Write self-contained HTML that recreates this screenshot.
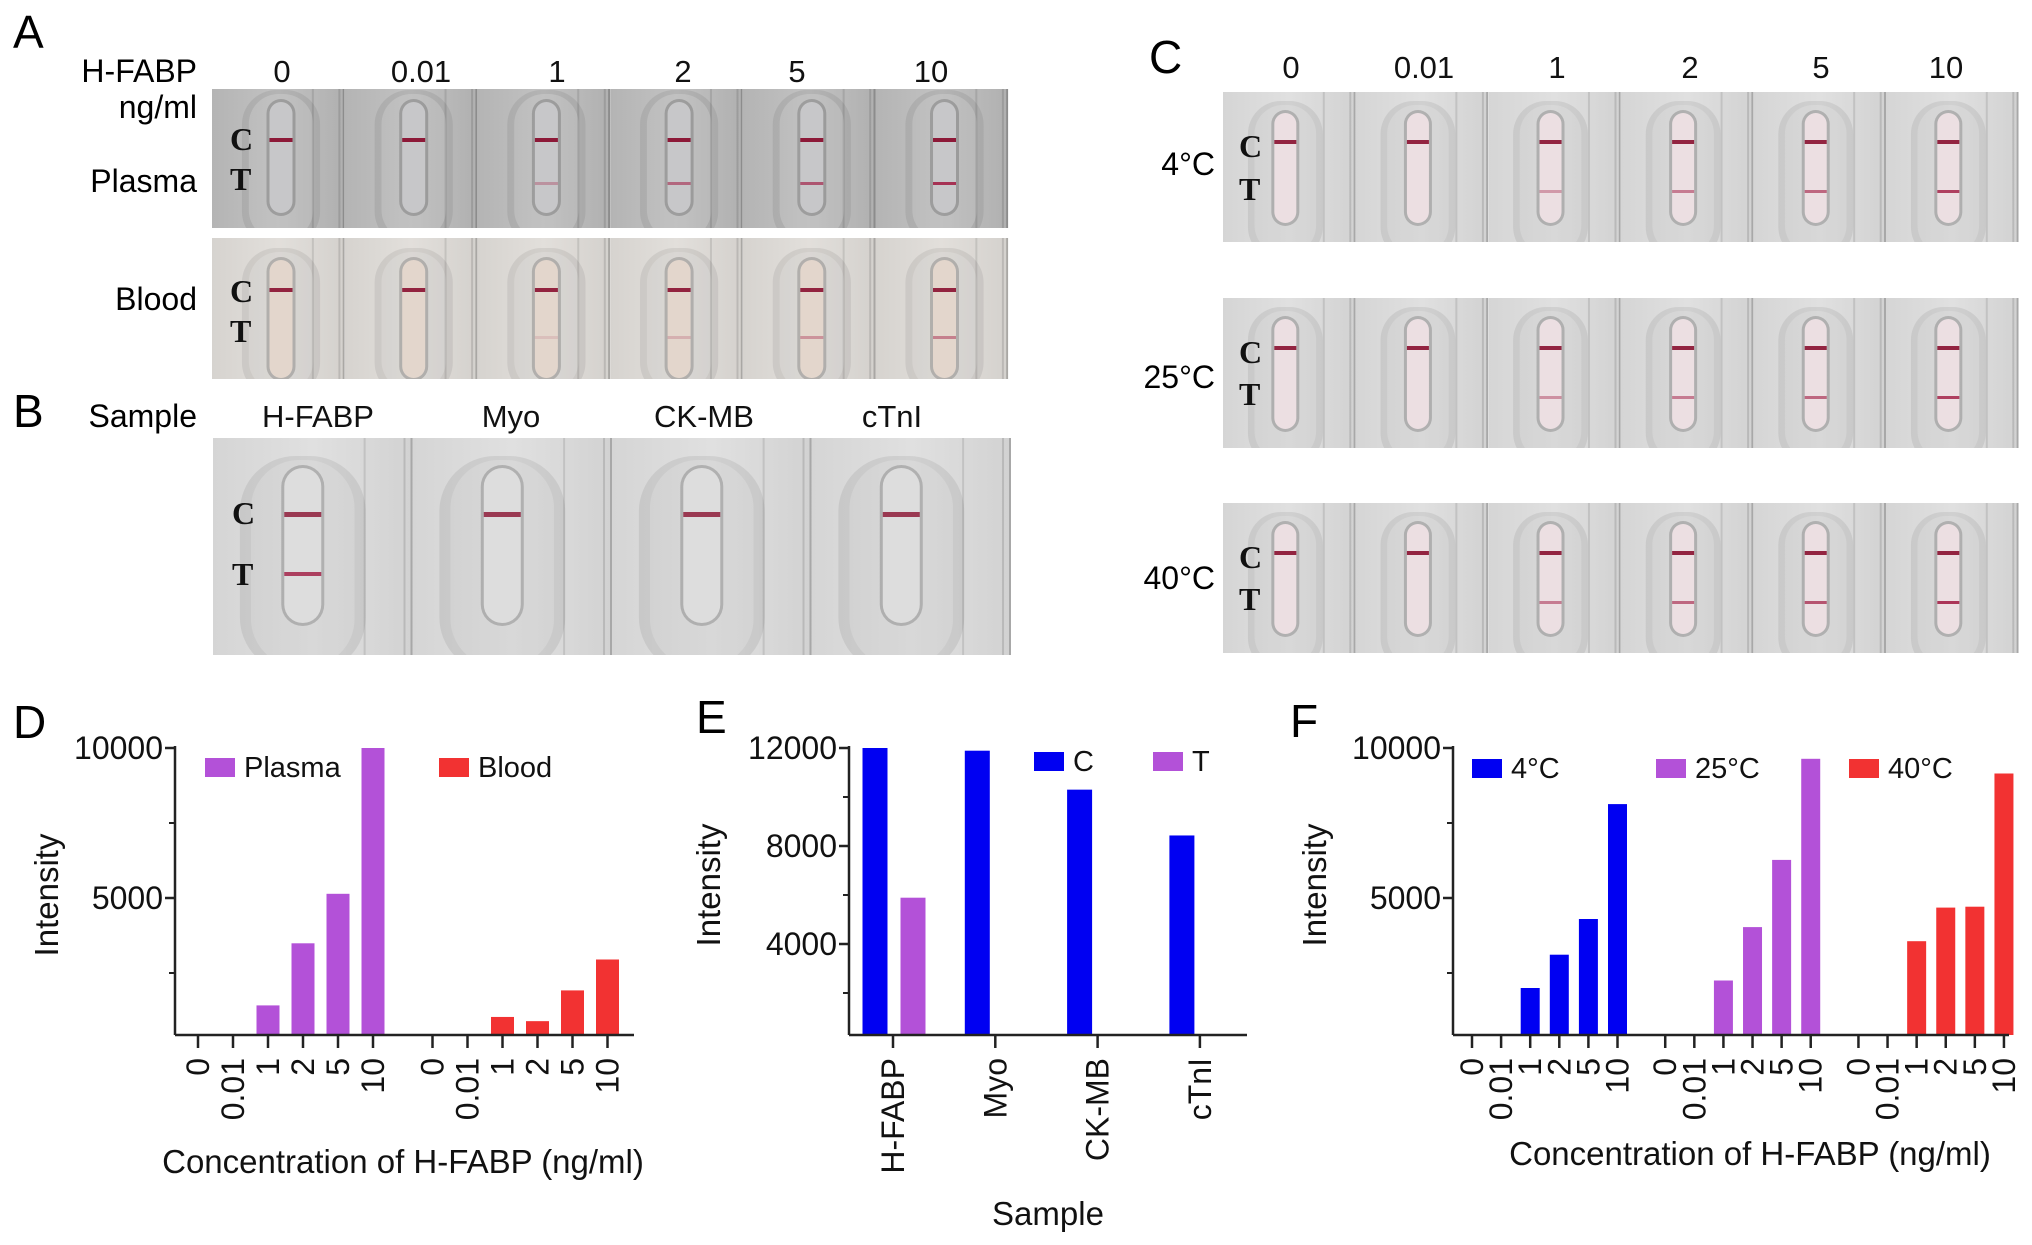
<!DOCTYPE html>
<html><head><meta charset="utf-8">
<style>
html,body{margin:0;padding:0;background:#fff;}
svg{display:block;font-family:"Liberation Sans",Arial,sans-serif;}
.serif{font-family:"Liberation Serif",serif;font-weight:bold;}
</style></head>
<body>
<svg id="fig" xmlns="http://www.w3.org/2000/svg" width="2032" height="1245" viewBox="0 0 2032 1245">
<defs id="defs">
<linearGradient id="gPlasma" x1="0" x2="1" y1="0" y2="0"><stop offset="0" stop-color="#b4b4b4"/><stop offset="0.5" stop-color="#c2c2c2"/><stop offset="1" stop-color="#b0b0b0"/></linearGradient>
<linearGradient id="gBlood" x1="0" x2="1"><stop offset="0" stop-color="#d6d3cf"/><stop offset="0.5" stop-color="#e2dfdb"/><stop offset="1" stop-color="#d4d1cd"/></linearGradient>
<linearGradient id="gLight" x1="0" x2="1"><stop offset="0" stop-color="#d5d5d5"/><stop offset="0.5" stop-color="#e0e0e0"/><stop offset="1" stop-color="#d2d2d2"/></linearGradient>
</defs>
<g id="strips"></g>
<g id="texts">
<text x="13" y="48" font-size="46">A</text>
<text x="197" y="82" font-size="32" text-anchor="end">H-FABP</text>
<text x="197" y="118" font-size="32" text-anchor="end">ng/ml</text>
<text x="197" y="192" font-size="32" text-anchor="end">Plasma</text>
<text x="197" y="310" font-size="32" text-anchor="end">Blood</text>
<text x="13" y="427" font-size="46">B</text>
<text x="197" y="427" font-size="32" text-anchor="end">Sample</text>
<text x="1149" y="73" font-size="46">C</text>
<text x="1215" y="175" font-size="32" text-anchor="end">4°C</text>
<text x="1215" y="388" font-size="32" text-anchor="end">25°C</text>
<text x="1215" y="589" font-size="32" text-anchor="end">40°C</text>
<text x="13" y="738" font-size="46">D</text>
<text x="696" y="733" font-size="46">E</text>
<text x="1290" y="737" font-size="46">F</text>
</g>
<g id="charts"></g>
</svg>
<script>
// ---------- chart data ----------
const concLabels = ['0','0.01','1','2','5','10'];
const dPlasma = [0,0,1420,3490,5140,10000];
const dBlood = [0,0,1035,895,1920,2950];
const eCategories = ['H-FABP','Myo','CK-MB','cTnI'];
const eC = [12000,11890,10300,8430];
const eT = [5890,0,0,0];
const f4C = [0,0,2000,3110,4300,8130];
const f25C = [0,0,2250,4030,6270,9640];
const f40C = [0,0,3560,4680,4710,9150];
const dTicks = [5000,10000];
const dMinor = [2500,7500];
const eTicks = [4000,8000,12000];
const eMinor = [2000,6000,10000];

const NS='http://www.w3.org/2000/svg';
const charts=document.getElementById('charts');
function mk(tag,attrs,parent){const e=document.createElementNS(NS,tag);for(const k in attrs)e.setAttribute(k,attrs[k]);(parent||charts).appendChild(e);return e;}
const PURPLE='#b351d8', RED='#f23232', BLUE='#0000f2';

function yAxis(g,x,yScale,ticks,minor,top,base){
  const ax=mk('line',{x1:x,x2:x,y1:top,y2:base,stroke:'#222','stroke-width':2.5},g);
  
  
  ticks.forEach(v=>{
    const y=yScale(v);
    mk('line',{x1:x-10,x2:x,y1:y,y2:y,stroke:'#222','stroke-width':2.5},g);
    const t=mk('text',{x:x-12,y:y+11,'font-size':32,'text-anchor':'end',fill:'#111'},g);
    t.textContent=v;
    
    
  });
  minor.forEach(v=>{const y=yScale(v);mk('line',{x1:x-6,x2:x,y1:y,y2:y,stroke:'#222','stroke-width':2},g);});
}
function xTickLabel(g,x,y,txt){
  mk('line',{x1:x,x2:x,y1:y-13,y2:y,stroke:'#222','stroke-width':2.5},g);
  const t=mk('text',{x:x+11,y:y+10,'font-size':32,'text-anchor':'end',transform:`rotate(-90 ${x+11} ${y+10})`,fill:'#111'},g);
  t.textContent=txt;
  
  
}
function legend(g,x,y,color,label){
  const r=mk('rect',{x:x,y:y,width:30,height:19,fill:color},g);
  
  
  const t=mk('text',{x:x+39,y:y+19,'font-size':29,fill:'#111'},g);
  t.textContent=label;
  
  
}
function rotLabel(g,x,y,txt,name){
  const t=mk('text',{x:x,y:y,'font-size':33,'text-anchor':'middle',transform:`rotate(-90 ${x} ${y})`,fill:'#111'},g);
  t.textContent=txt;
  
  
}
function label(g,x,y,txt,name,size){
  const t=mk('text',{x:x,y:y,'font-size':size||33,'text-anchor':'middle',fill:'#111'},g);
  t.textContent=txt;
  
  
}
function bar(g,xc,w,yTop,base,color,name){
  const h=Math.max(0,base-yTop);
  const r=mk('rect',{x:xc-w/2,y:base-h,width:w,height:h,fill:color},g);
  
  
}

// ---------- Panel D ----------
(function(){
  const g=mk('g',{});
  
  
  const base=1035, axX=175;
  const y=v=>748+(10000-v)*0.03;
  const x=(grp,i)=>198+(grp*6.7+i)*35;
  yAxis(g,axX,y,dTicks,dMinor,746,base);
  [dPlasma,dBlood].forEach((s,gi)=>s.forEach((v,i)=>bar(g,x(gi,i),23,Math.min(y(v),base),base,gi?RED:PURPLE,gi?'bar-blood':'bar-plasma')));
  mk('line',{x1:axX,x2:634,y1:base,y2:base,stroke:'#222','stroke-width':2.5},g);
  [0,1].forEach(gi=>concLabels.forEach((c,i)=>xTickLabel(g,x(gi,i),base+13,c)));
  legend(g,205,758,PURPLE,'Plasma');
  legend(g,439,758,RED,'Blood');
  rotLabel(g,58,895,'Intensity','y-axis-title');
  label(g,403,1173,'Concentration of H-FABP (ng/ml)','x-axis-title');
})();

// ---------- Panel E ----------
(function(){
  const g=mk('g',{});
  
  
  const base=1035, axX=849;
  const y=v=>748+(12000-v)*0.0245;
  const x=i=>893+i*102.3;
  yAxis(g,axX,y,eTicks,eMinor,746,base);
  eC.forEach((v,i)=>bar(g,x(i)-18,25,y(v),base,BLUE,'bar-c'));
  eT.forEach((v,i)=>bar(g,x(i)+20,25,Math.min(y(v),base),base,PURPLE,'bar-t'));
  mk('line',{x1:axX,x2:1247,y1:base,y2:base,stroke:'#222','stroke-width':2.5},g);
  eCategories.forEach((c,i)=>xTickLabel(g,x(i),base+13,c));
  legend(g,1034,752,BLUE,'C');
  legend(g,1153,752,PURPLE,'T');
  rotLabel(g,720,885,'Intensity','y-axis-title');
  label(g,1048,1225,'Sample','x-axis-title');
})();

// ---------- Panel F ----------
(function(){
  const g=mk('g',{});
  
  
  const base=1035, axX=1453;
  const y=v=>748+(10000-v)*0.03;
  const x=(grp,i)=>1472+(grp*6.64+i)*29.1;
  yAxis(g,axX,y,dTicks,dMinor,746,base);
  [f4C,f25C,f40C].forEach((s,gi)=>s.forEach((v,i)=>bar(g,x(gi,i),19,Math.min(y(v),base),base,[BLUE,PURPLE,RED][gi],['bar-4c','bar-25c','bar-40c'][gi])));
  mk('line',{x1:axX,x2:2009,y1:base,y2:base,stroke:'#222','stroke-width':2.5},g);
  [0,1,2].forEach(gi=>concLabels.forEach((c,i)=>xTickLabel(g,x(gi,i),base+13,c)));
  legend(g,1472,759,BLUE,'4°C');
  legend(g,1656,759,PURPLE,'25°C');
  legend(g,1849,759,RED,'40°C');
  rotLabel(g,1326,885,'Intensity','y-axis-title');
  label(g,1750,1165,'Concentration of H-FABP (ng/ml)','x-axis-title');
})();

// ---------- Test strip photos ----------
const strips=document.getElementById('strips');
const defs=document.getElementById('defs');
let clipN=0;
function sk(tag,attrs,parent){return mk(tag,attrs,parent||strips);}
function cell(x,y,w,h,fill,winFill,win,cInt,tInt){
  const id='clip'+(clipN++);
  const cp=mk('clipPath',{id:id},defs);
  mk('rect',{x:x,y:y,width:w,height:h},cp);
  const g=sk('g',{'clip-path':`url(#${id})`});
  
  
  sk('rect',{x:x,y:y,width:w,height:h,fill:fill},g);
  const cx=x+w*win.cx, ww=win.w;
  sk('rect',{x:cx-ww*1.7,y:y+win.top-12,width:ww*3.4,height:h-win.top+30,rx:ww*1.5,fill:'#000',opacity:0.07},g);
  sk('rect',{x:cx-ww*1.4,y:y+win.top-8,width:ww*2.8,height:h-win.top+20,rx:ww*1.3,fill:'#fff',opacity:0.18},g);
  sk('rect',{x:cx-ww/2-3,y:y+win.top-3,width:ww+6,height:win.h+6,rx:ww/2+3,fill:'#000',opacity:0.18},g);
  sk('rect',{x:cx-ww/2,y:y+win.top,width:ww,height:win.h,rx:ww/2,fill:winFill},g);
  sk('line',{x1:x+w*0.76,x2:x+w*0.76,y1:y,y2:y+h,stroke:'#000','stroke-opacity':0.1,'stroke-width':2},g);
  sk('line',{x1:x+w*0.96,x2:x+w*0.96,y1:y,y2:y+h,stroke:'#000','stroke-opacity':0.12,'stroke-width':2},g);
  sk('line',{x1:x+w-1,x2:x+w-1,y1:y,y2:y+h,stroke:'#000','stroke-opacity':0.2,'stroke-width':2},g);
  sk('rect',{x:cx-ww/2,y:y+win.c-2,width:ww,height:win.lh,fill:'#8a1030',opacity:cInt},g);
  if(tInt>0) sk('rect',{x:cx-ww/2,y:y+win.t-2,width:ww,height:win.lh-1,fill:'#a01840',opacity:tInt},g);
}
const aT_plasma=[0,0,0.3,0.55,0.65,0.85], aT_blood=[0,0,0.12,0.2,0.35,0.45];
const winA={cx:0.52,w:23,top:13,h:111,c:51,t:95,lh:4};
for(let i=0;i<6;i++){
  cell(212+i*132.7,89,132.7,139,'url(#gPlasma)','#c7c7c9',winA,0.95,aT_plasma[i]);
  cell(212+i*132.7,238,132.7,141,'url(#gBlood)','#e3d6cc',{cx:0.52,w:23,top:22,h:118,c:52,t:100,lh:4},0.9,aT_blood[i]);
}
const bT=[0.8,0,0,0];
for(let i=0;i<4;i++) cell(213+i*199.5,438,199.5,217,'url(#gLight)','#dddddd',{cx:0.45,w:37,top:30,h:155,c:76,t:136,lh:5},0.8,bT[i]);
const cT=[[0,0,0.35,0.5,0.6,0.8],[0,0,0.4,0.5,0.6,0.8],[0,0,0.5,0.6,0.7,0.85]];
const rowY=[92,298,503];
for(let r=0;r<3;r++) for(let i=0;i<6;i++)
  cell(1223+i*132.6,rowY[r],132.6,150,'url(#gLight)','#ecdfe2',{cx:0.47,w:22,top:21,h:110,c:50,t:100,lh:4},0.9,cT[r][i]);

const hdrA=[282,421,557,683,797,931];
concLabels.forEach((c,i)=>{const t=mk('text',{x:hdrA[i],y:82,'font-size':31,'text-anchor':'middle',fill:'#111'},strips);t.textContent=c;
  
  });
const hdrC=[1291,1424,1557,1690,1821,1946];
concLabels.forEach((c,i)=>{const t=mk('text',{x:hdrC[i],y:78,'font-size':31,'text-anchor':'middle',fill:'#111'},strips);t.textContent=c;
  
  });
const hdrB=[318,511,704,892];
eCategories.forEach((c,i)=>{const t=mk('text',{x:hdrB[i],y:427,'font-size':31,'text-anchor':'middle',fill:'#111'},strips);t.textContent=c;
  
  });
const ctPos=[[230,150,190],[230,302,342],[232,524,585],[1239,157,200],[1239,363,405],[1239,568,610]];
ctPos.forEach(p=>{
  const c=mk('text',{x:p[0],y:p[1],'font-size':32,class:'serif',fill:'#111'},strips);c.textContent='C';
  
  
  const t=mk('text',{x:p[0],y:p[2],'font-size':32,class:'serif',fill:'#111'},strips);t.textContent='T';
  
  
});
</script>
</body></html>
